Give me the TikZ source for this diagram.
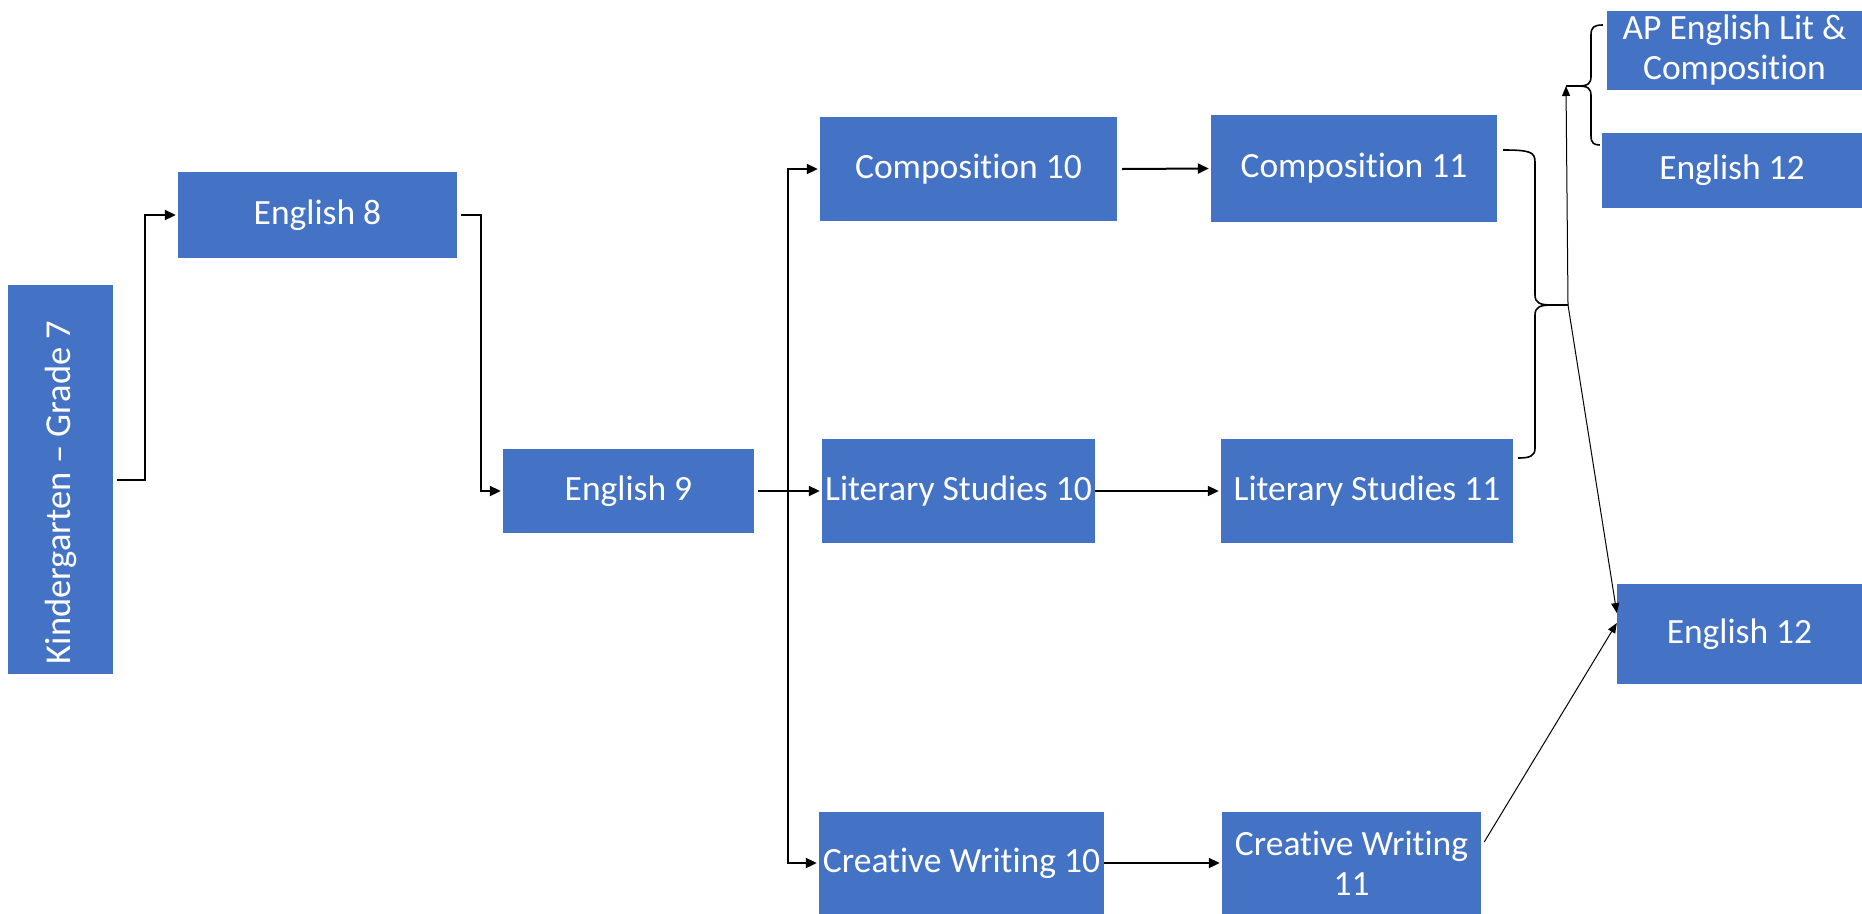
\documentclass[tikz,border=0pt]{standalone}
\usepackage{fontspec}
\setmainfont{Carlito}[Ligatures=NoCommon]
\usetikzlibrary{arrows.meta}
\definecolor{boxblue}{HTML}{4472C4}
\tikzset{
  box/.style={fill=boxblue, draw=none, text=white, inner sep=0pt, align=center,
    font=\fontsize{35.5}{40}\selectfont},
  conn/.style={draw=black, line width=2pt, -{Triangle[length=11pt,width=10pt]}},
  thinconn/.style={draw=black, line width=1pt, -{Triangle[length=10pt,width=8pt]}},
  bracel/.style={draw=black, line width=1.6pt}
}
\begin{document}
\begin{tikzpicture}[x=1pt,y=-1pt]
\useasboundingbox (0,0) rectangle (1862,913);
\clip (0,0) rectangle (1862,913);
% nodes
\node[box, minimum width=105, minimum height=389, font=\fontsize{36.5}{40}\selectfont] (k7) at (60.5,479.5) {\rotatebox{90}{Kindergarten – Grade 7\hspace{26pt}}};
\node[box, minimum width=279, minimum height=86] (e8) at (317.5,215) {English 8};
\node[box, minimum width=251, minimum height=84] (e9) at (628.5,491) {English 9};
\node[box, minimum width=297, minimum height=104] (c10) at (968.5,169) {Composition 10};
\node[box, minimum width=286, minimum height=107] (c11) at (1354,168.5) {Composition 11};
\node[box, minimum width=273, minimum height=104] (ls10) at (958.5,491) {Literary Studies 10};
\node[box, minimum width=292, minimum height=104] (ls11) at (1367,491) {Literary Studies 11};
\node[box, minimum width=285, minimum height=102] (cw10) at (961.5,863) {Creative Writing 10};
\node[box, minimum width=259, minimum height=102] (cw11) at (1351.5,863) {Creative Writing\\11};
\node[box, minimum width=255, minimum height=79] (ap) at (1734.5,50.5) {AP English Lit \&\\Composition};
\node[box, minimum width=260, minimum height=75] (e12a) at (1732,170.5) {English 12};
\node[box, minimum width=245, minimum height=100] (e12b) at (1739.5,634) {English 12};
% elbow connectors
\draw[conn] ([xshift=4pt]k7.east) -- ++(28,0) |- ([xshift=-2pt]e8.west);
\draw[conn] ([xshift=4pt]e8.east) -- ++(20,0) |- ([xshift=-2pt]e9.west);
\draw[conn] ([xshift=4pt]e9.east) -- ([xshift=-2pt]ls10.west);
\draw[conn] ([xshift=4pt]e9.east) -- ++(30,0) |- ([xshift=-2pt]c10.west);
\draw[conn] ([xshift=4pt]e9.east) -- ++(30,0) |- ([xshift=-2pt]cw10.west);
\draw[conn] ([xshift=5pt]c10.east) -- ([xshift=-2pt]c11.west);
\draw[conn] (ls10.east) -- ([xshift=-2pt]ls11.west);
\draw[conn] (cw10.east) -- ([xshift=-2pt]cw11.west);
% braces
\draw[bracel] ([xshift=6pt,yshift=18.5pt]c11.east) .. controls (1530,150) and (1535,152) .. (1535,162)
  -- (1535,295) .. controls (1535,303) and (1540,305) .. (1552,305)
  .. controls (1540,305) and (1535,307) .. (1535,315)
  -- (1535,448) .. controls (1535,456) and (1530,458) .. ([xshift=5pt,yshift=33pt]ls11.east);
\coordinate (rb) at (1568,305);
\draw[line width=1.6pt] (1552,305) -- (rb);
\draw[bracel] ([xshift=-4pt,yshift=25.5pt]ap.west) .. controls (1594,25) and (1591,27) .. (1591,35)
  -- (1591,76) .. controls (1591,84) and (1588,86) .. (1577,86)
  .. controls (1588,86) and (1591,88) .. (1591,96)
  -- (1591,136) .. controls (1591,143) and (1594,145) .. ([xshift=-2pt,yshift=25.5pt]e12a.west);
\coordinate (lb) at (1566,86);
\draw[line width=1.6pt] (1577,86) -- (lb);
% thin arrows
\draw[thinconn] (rb) -- (lb);
\draw[thinconn] (rb) -- ([yshift=21pt]e12b.west);
\draw[thinconn] ([xshift=3pt,yshift=21pt]cw11.east) -- ([yshift=11pt]e12b.west);
\end{tikzpicture}
\end{document}
